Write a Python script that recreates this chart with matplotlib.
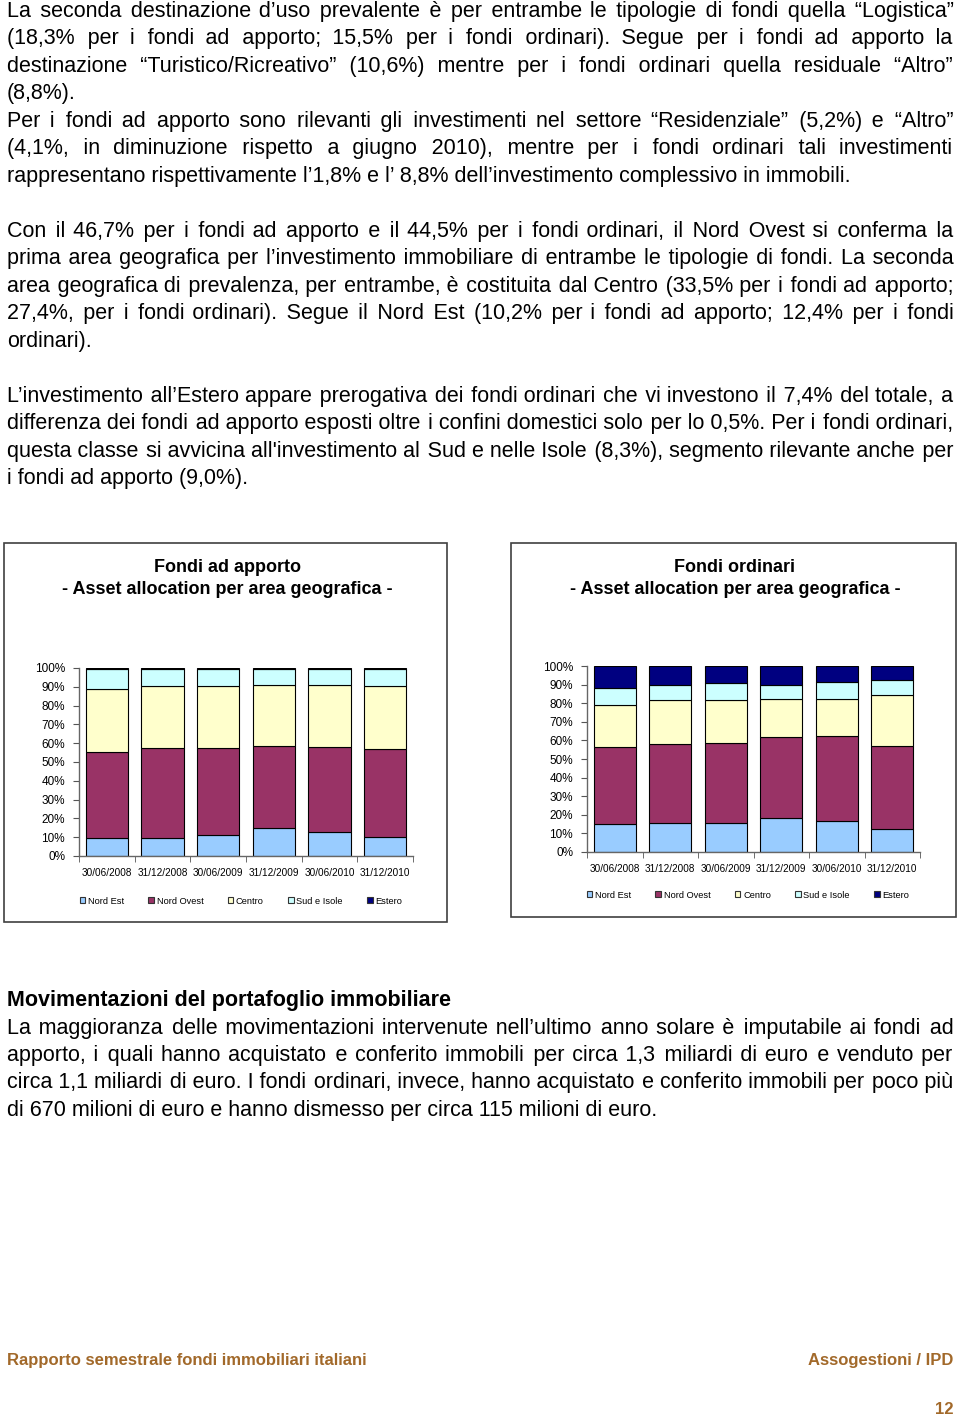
import matplotlib
matplotlib.use("Agg")
import matplotlib.pyplot as plt
from matplotlib.font_manager import FontProperties
from matplotlib.patches import Rectangle, Patch

# ---------------- data ----------------
dates = ['30/06/2008', '31/12/2008', '30/06/2009', '31/12/2009', '30/06/2010', '31/12/2010']
areas = ['Nord Est', 'Nord Ovest', 'Centro', 'Sud e Isole', 'Estero']

apporto_nord_est = [9.4, 9.8, 11.2, 14.7, 13.0, 10.2]
apporto_nord_ovest = [45.7, 47.6, 46.2, 43.7, 44.9, 46.7]
apporto_centro = [33.9, 33.0, 33.0, 32.5, 33.0, 33.5]
apporto_sud_isole = [10.5, 9.1, 9.1, 8.6, 8.6, 9.1]
apporto_estero = [0.5, 0.5, 0.5, 0.5, 0.5, 0.5]

ordinari_nord_est = [15.1, 15.4, 15.8, 18.3, 16.8, 12.4]
ordinari_nord_ovest = [41.2, 42.8, 43.0, 43.3, 45.4, 44.5]
ordinari_centro = [22.8, 23.5, 22.9, 20.8, 20.2, 27.4]
ordinari_sud_isole = [9.1, 8.2, 9.0, 7.6, 9.0, 8.3]
ordinari_estero = [11.8, 10.1, 9.3, 10.0, 8.6, 7.4]

yticks = [0, 10, 20, 30, 40, 50, 60, 70, 80, 90, 100]
ytick_labels = ['0%', '10%', '20%', '30%', '40%', '50%', '60%', '70%', '80%', '90%', '100%']

area_colors = ['#99CCFF', '#993366', '#FFFFCC', '#CCFFFF', '#000080']

para1 = [
    ("La seconda destinazione d’uso prevalente è per entrambe le tipologie di fondi quella “Logistica”", True),
    ("(18,3% per i fondi ad apporto; 15,5% per i fondi ordinari). Segue per i fondi ad apporto la", True),
    ("destinazione “Turistico/Ricreativo” (10,6%) mentre per i fondi ordinari quella residuale “Altro”", True),
    ("(8,8%).", False),
    ("Per i fondi ad apporto sono rilevanti gli investimenti nel settore “Residenziale” (5,2%) e “Altro”", True),
    ("(4,1%, in diminuzione rispetto a giugno 2010), mentre per i fondi ordinari tali investimenti", True),
    ("rappresentano rispettivamente l’1,8% e l’ 8,8% dell’investimento complessivo in immobili.", False),
]
para2 = [
    ("Con il 46,7% per i fondi ad apporto e il 44,5% per i fondi ordinari, il Nord Ovest si conferma la", True),
    ("prima area geografica per l’investimento immobiliare di entrambe le tipologie di fondi. La seconda", True),
    ("area geografica di prevalenza, per entrambe, è costituita dal Centro (33,5% per i fondi ad apporto;", True),
    ("27,4%, per i fondi ordinari). Segue il Nord Est (10,2% per i fondi ad apporto; 12,4% per i fondi", True),
    ("ordinari).", False),
]
para3 = [
    ("L’investimento all’Estero appare prerogativa dei fondi ordinari che vi investono il 7,4% del totale, a", True),
    ("differenza dei fondi ad apporto esposti oltre i confini domestici solo per lo 0,5%. Per i fondi ordinari,", True),
    ("questa classe si avvicina all'investimento al Sud e nelle Isole (8,3%), segmento rilevante anche per", True),
    ("i fondi ad apporto (9,0%).", False),
]
heading = "Movimentazioni del portafoglio immobiliare"
para4 = [
    ("La maggioranza delle movimentazioni intervenute nell’ultimo anno solare è imputabile ai fondi ad", True),
    ("apporto, i quali hanno acquistato e conferito immobili per circa 1,3 miliardi di euro e venduto per", True),
    ("circa 1,1 miliardi di euro. I fondi ordinari, invece, hanno acquistato e conferito immobili per poco più", True),
    ("di 670 milioni di euro e hanno dismesso per circa 115 milioni di euro.", False),
]

# ---------------- figure ----------------
W, H = 960, 1420
fig = plt.figure(figsize=(W / 100, H / 100), dpi=100)
fig.patch.set_facecolor('white')
renderer = fig.canvas.get_renderer()

SANS = ['Liberation Sans', 'DejaVu Sans']

def fx(x):
    return x / W

def fy(y):
    return 1 - y / H

body_fp = FontProperties(family=SANS, size=15.5)
X0, X1 = 7, 953
HAIR = '\u200a'

def text_width(s, fp):
    w, h, d = renderer.get_text_width_height_descent(s, fp, ismath=False)
    return w

hair_w = (text_width('x' + HAIR * 20 + 'x', body_fp) - text_width('xx', body_fp)) / 20.0

def justified(line, fp):
    words = line.split(' ')
    natural = text_width(line, fp)
    extra = (X1 - X0) - natural
    n = len(words) - 1
    if n <= 0 or hair_w <= 0 or extra <= 0:
        return line
    out = words[0]
    prev = 0
    for i in range(1, len(words)):
        k = int(round(extra * i / n / hair_w))
        out += ' ' + HAIR * (k - prev) + words[i]
        prev = k
    return out

def draw_line(line, justify, baseline, fp=body_fp):
    s = justified(line, fp) if justify else line
    fig.text(fx(X0), fy(round(baseline)), s, fontproperties=fp, ha='left',
             va='baseline', color='black')

LH = 27.5
b = 16.7
for i, (ln, j) in enumerate(para1):
    draw_line(ln, j, b + i * LH)
b = 16.7 + 8 * LH
for i, (ln, j) in enumerate(para2):
    draw_line(ln, j, b + i * LH)
b = 16.7 + 14 * LH
for i, (ln, j) in enumerate(para3):
    draw_line(ln, j, b + i * LH)

head_fp = FontProperties(family=SANS, size=15.5, weight='bold')
fig.text(fx(X0), fy(1006), heading, fontproperties=head_fp, ha='left', va='baseline')
for i, (ln, j) in enumerate(para4):
    draw_line(ln, j, 1033.5 + i * LH)

# ---------------- chart boxes ----------------
def box(x0, y0, x1, y1):
    r = Rectangle((fx(x0), fy(y1)), fx(x1) - fx(x0), fy(y0) - fy(y1),
                  transform=fig.transFigure, fill=False, edgecolor='#404040',
                  linewidth=1.2, zorder=0)
    fig.add_artist(r)

box(4, 543, 447, 922)
box(511, 543, 956, 917)

title_fp = FontProperties(family=SANS, size=13, weight='bold')
fig.text(fx(227), fy(567), 'Fondi ad apporto', fontproperties=title_fp, ha='center', va='center')
fig.text(fx(227), fy(589), '- Asset allocation per area geografica -', fontproperties=title_fp,
         ha='center', va='center')
fig.text(fx(735), fy(567), 'Fondi ordinari', fontproperties=title_fp, ha='center', va='center')
fig.text(fx(735), fy(589), '- Asset allocation per area geografica -', fontproperties=title_fp,
         ha='center', va='center')

def stacked(ax_px, series, legend_center):
    x0, y0, x1, y1 = ax_px
    ax = fig.add_axes([fx(x0), fy(y1), fx(x1) - fx(x0), fy(y0) - fy(y1)])
    pos = [i + 0.5 for i in range(len(dates))]
    bottom = [0.0] * len(dates)
    handles = []
    for name, vals, col in zip(areas, series, area_colors):
        ax.bar(pos, vals, width=0.76, bottom=bottom, color=col, edgecolor='black',
               linewidth=0.8, label=name)
        bottom = [bb + v for bb, v in zip(bottom, vals)]
        handles.append(Patch(facecolor=col, edgecolor='#333333', linewidth=0.8, label=name))
    ax.set_xlim(0, len(dates))
    ax.set_ylim(0, 100)
    ax.set_yticks(yticks)
    ax.set_yticklabels(ytick_labels, fontfamily=SANS, fontsize=8.5)
    ax.set_xticks(pos)
    ax.set_xticklabels(dates, fontfamily=SANS, fontsize=7.2)
    ax.set_xticks(range(len(dates) + 1), minor=True)
    ax.tick_params(axis='x', which='major', length=0, pad=9)
    ax.tick_params(axis='x', which='minor', length=4, color='#555555', direction='out')
    ax.tick_params(axis='y', length=4, color='#555555', pad=6)
    for s in ['top', 'right']:
        ax.spines[s].set_visible(False)
    for s in ['left', 'bottom']:
        ax.spines[s].set_color('#666666')
        ax.spines[s].set_linewidth(1.0)
    ax.patch.set_alpha(0)
    fig.legend(handles=handles, loc='center',
               bbox_to_anchor=(fx(legend_center[0]), fy(legend_center[1])),
               ncol=5, frameon=False, prop=FontProperties(family=SANS, size=6.7),
               handlelength=0.6, handleheight=0.6, handletextpad=0.3,
               columnspacing=2.6, borderpad=0)
    return ax

stacked((79, 668, 413, 856),
        [apporto_nord_est, apporto_nord_ovest, apporto_centro, apporto_sud_isole, apporto_estero],
        (241, 901))
stacked((587, 666, 920, 852),
        [ordinari_nord_est, ordinari_nord_ovest, ordinari_centro, ordinari_sud_isole, ordinari_estero],
        (748, 895))

# ---------------- footer ----------------
foot_fp = FontProperties(family=SANS, size=12, weight='bold')
FOOT = '#A2692A'
fig.text(fx(7), fy(1360), 'Rapporto semestrale fondi immobiliari italiani', fontproperties=foot_fp,
         color=FOOT, ha='left', va='center')
fig.text(fx(953), fy(1360), 'Assogestioni / IPD', fontproperties=foot_fp, color=FOOT,
         ha='right', va='center')
fig.text(fx(953), fy(1410), '12', fontproperties=foot_fp, color=FOOT, ha='right', va='center')

fig.savefig('out.png', dpi=100, facecolor='white')
